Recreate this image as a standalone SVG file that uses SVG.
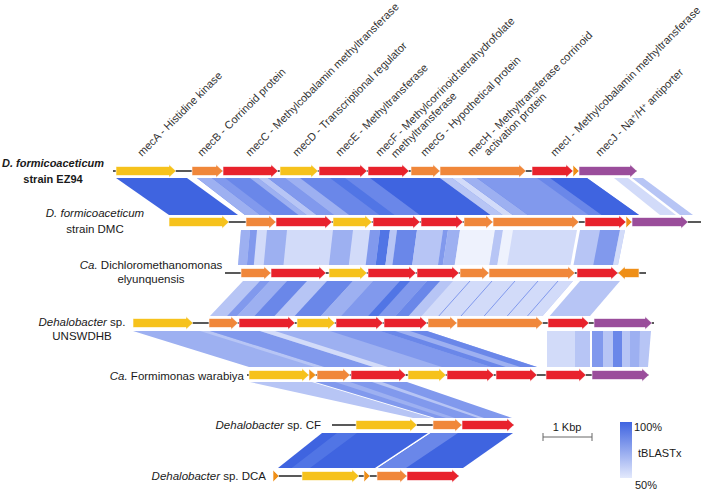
<svg xmlns="http://www.w3.org/2000/svg" width="708" height="490" viewBox="0 0 708 490">
<defs>
<style>
text{font-family:"Liberation Sans",Arial,sans-serif;fill:#1a1a1a}
.gl{font-size:11px;fill:#333}
.sp{font-size:11.5px}
.it{font-style:italic}
.tr line{stroke:#222;stroke-width:1.3}
.tr path{stroke:#fff;stroke-width:0.6}
.y{fill:#f6c21c}.o{fill:#f0873a}.r{fill:#e8222c}.p{fill:#9a4d9b}.d{fill:#ef8f17}
.c100{fill:#3f64e0}.c90{fill:#5175e5}.c80{fill:#6a87e9}.c70{fill:#8199ed}.c60{fill:#9db0f1}.c55{fill:#b7c5f5}.c50{fill:#d2dbf9}.pale{fill:#eef2fd}
.ln{stroke:#8199ed;stroke-width:1;fill:none}
</style>
<linearGradient id="lg" x1="0" y1="0" x2="0" y2="1">
<stop offset="0" stop-color="#3f64e0"/>
<stop offset="1" stop-color="#e3e9fc"/>
</linearGradient>
</defs>
<rect width="708" height="490" fill="#fff"/>

<g id="connectors">
<!-- EZ94 -> DMC -->
<polygon class="c100" points="116,178 187,178 238,215 169,215"/>
<polygon class="c80" points="197,178 587,178 639,215 245,215"/>
<polygon class="c60" points="197,178 212,178 260.2,215 245,215"/>
<polygon class="c70" points="212,178 225,178 273.3,215 260.2,215"/>
<polygon class="c60" points="250,178 258,178 306.6,215 298.5,215"/>
<polygon class="c55" points="258,178 268,178 316.7,215 306.6,215"/>
<polygon class="c70" points="268,178 285,178 333.9,215 316.7,215"/>
<polygon class="c60" points="285,178 300,178 349.1,215 333.9,215"/>
<polygon class="c90" points="330,178 345,178 394.5,215 379.4,215"/>
<polygon class="c100" points="370,178 440,178 490.5,215 419.8,215"/>
<polygon class="c55" points="440,178 452,178 502.6,215 490.5,215"/>
<polygon class="c50" points="452,178 462,178 512.7,215 502.6,215"/>
<polygon class="c60" points="462,178 477,178 527.9,215 512.7,215"/>
<polygon class="c70" points="477,178 537,178 588.5,215 527.9,215"/>
<polygon class="c100" points="550,178 587,178 639,215 601.6,215"/>
<polygon class="c50" points="614,178 628,178 676,215 660,215"/>
<polygon class="c55" points="632,178 643,178 693,215 680,215"/>
<!-- DMC -> Dichloromethanomonas -->
<polygon class="c50" points="241,230 577,230 570.5,265 238,265"/>
<polygon class="c60" points="241,230 250,230 246.9,265 238,265"/>
<polygon class="c70" points="250,230 257,230 253.8,265 246.9,265"/>
<polygon class="c60" points="267,230 287,230 283.5,265 263.7,265"/>
<polygon class="c60" points="333,230 353,230 348.8,265 329,265"/>
<polygon class="c70" points="370,230 380,230 375.6,265 365.7,265"/>
<polygon class="c90" points="380,230 390,230 385.4,265 375.6,265"/>
<polygon class="c55" points="390,230 397,230 392.4,265 385.4,265"/>
<polygon class="c80" points="397,230 417,230 412.2,265 392.4,265"/>
<polygon class="c55" points="417,230 443,230 438,265 412.2,265"/>
<polygon class="c70" points="443,230 448,230 442.8,265 438,265"/>
<polygon class="c60" points="448,230 460,230 454.7,265 442.8,265"/>
<polygon class="pale" points="460,230 495,230 489.4,265 454.7,265"/>
<polygon class="c55" points="495,230 503,230 497.3,265 489.4,265"/>
<polygon class="pale" points="503,230 513,230 507.2,265 497.3,265"/>
<polygon class="c55" points="580,230 625,230 618,265 573.5,265"/>
<polygon class="c70" points="600,230 620,230 613.1,265 593.3,265"/>
<polygon class="c50" points="620,230 625,230 618,265 613.1,265"/>
<!-- Dichloromethanomonas -> UNSWDHB -->
<polygon class="c55" points="243,281 573,281 542.6,316 210,316"/>
<polygon class="c70" points="260,281 270,281 237.2,316 227.1,316"/>
<polygon class="c60" points="270,281 287,281 254.4,316 237.2,316"/>
<polygon class="c80" points="287,281 307,281 274.5,316 254.4,316"/>
<polygon class="c80" points="327,281 353,281 320.9,316 294.7,316"/>
<polygon class="c60" points="353,281 373,281 341,316 320.9,316"/>
<polygon class="c70" points="373,281 427,281 395.5,316 341,316"/>
<polygon class="c90" points="400,281 410,281 378.3,316 368.2,316"/>
<polygon class="c80" points="427,281 440,281 408.6,316 395.5,316"/>
<polygon class="c50" points="453,281 573,281 542.6,316 421.7,316"/>
<path class="ln" d="M470,281L438.8,316M492,281L461,316M515,281L484.2,316M538,281L507.3,316M558,281L527.5,316"/>
<polygon class="c55" points="580,281 620,281 590,316 549.7,316"/>
<!-- UNSWDHB -> Formimonas -->
<polygon class="c60" points="133,331 427,331 537,367 249,367"/>
<polygon class="c55" points="200,331 210,331 324.4,367 314.6,367"/>
<polygon class="c70" points="210,331 260,331 373.4,367 324.4,367"/>
<polygon class="c50" points="260,331 275,331 388.1,367 373.4,367"/>
<polygon class="c70" points="330,331 380,331 491,367 442,367"/>
<polygon class="c80" points="380,331 395,331 505.7,367 491,367"/>
<polygon class="c80" points="410,331 427,331 537,367 520.3,367"/>
<polygon class="c50" points="547,331 590,331 590,367 547,367"/>
<polygon class="c55" points="575,331 590,331 590,367 575,367"/>
<polygon class="c55" points="592,331 651,331 648,367 592,367"/>
<polygon class="c70" points="592,331 603,331 603,367 592,367"/>
<polygon class="c80" points="613,331 622,331 622,367 613,367"/>
<polygon class="c60" points="630,331 640,331 639,367 630,367"/>
<!-- Formimonas -> CF -->
<polygon class="c55" points="250,382 312,382 432,418 413,418"/>
<polygon class="c70" points="315,382 407,382 512,418 435,418"/>
<polygon class="c60" points="335,382 350,382 455,418 446,418"/>
<polygon class="c55" points="372,382 382,382 484,418 478,418"/>
</g>
<g id="connectors-2">
<!-- CF -> DCA -->
<polygon class="c100" points="322,433 428,433 375,468 278,468"/>
<polygon class="c90" points="337,433 357,433 310,468 291.7,468"/>
<polygon class="c100" points="431,433 513,433 463,468 378,468"/>
<polygon class="c80" points="431,433 458,433 406,468 378,468"/>
</g>

<g id="labels-genes">
<text class="gl" transform="translate(142,157) rotate(-45)">mecA - Histidine kinase</text>
<text class="gl" transform="translate(202,157) rotate(-45)">mecB - Corrinoid protein</text>
<text class="gl" transform="translate(250,157) rotate(-45)">mecC - Methylcobalamin methyltransferase</text>
<text class="gl" transform="translate(297,157) rotate(-45)">mecD - Transcriptional regulator</text>
<text class="gl" transform="translate(340,157) rotate(-45)">mecE - Methyltransferase</text>
<text class="gl" transform="translate(380,157) rotate(-45)"><tspan x="0" y="0">mecF - Methylcorrinoid:tetrahydrofolate</tspan><tspan x="10" y="12">methyltransferase</tspan></text>
<text class="gl" transform="translate(425,157) rotate(-45)">mecG - Hypothetical protein</text>
<text class="gl" transform="translate(472,157) rotate(-45)"><tspan x="0" y="0">mecH - Methyltransferase corrinoid</tspan><tspan x="12" y="11">activation protein</tspan></text>
<text class="gl" transform="translate(555,157) rotate(-45)">mecI - Methylcobalamin methyltransferase</text>
<text class="gl" transform="translate(600,157) rotate(-45)">mecJ - Na<tspan dy="-3" font-size="7">+</tspan><tspan dy="3">/H</tspan><tspan dy="-3" font-size="7">+</tspan><tspan dy="3"> antiporter</tspan></text>
</g>

<g id="track-EZ94" class="tr">
<text x="53" y="167" text-anchor="middle" font-size="11" font-weight="bold" font-style="italic">D. formicoaceticum</text>
<text x="53" y="183" text-anchor="middle" font-size="11" font-weight="bold">strain EZ94</text>
<g transform="translate(0,171)">
<line x1="113" y1="0" x2="637" y2="0"/>
<path class="y" d="M116,-4.5H169V-6.5L176,0L169,6.5V4.5H116Z"/>
<path class="o" d="M192,-4.5H216V-6.5L223,0L216,6.5V4.5H192Z"/>
<path class="r" d="M223,-4.5H271V-6.5L278,0L271,6.5V4.5H223Z"/>
<path class="y" d="M280,-4.5H311V-6.5L318,0L311,6.5V4.5H280Z"/>
<path class="r" d="M319,-4.5H360V-6.5L367,0L360,6.5V4.5H319Z"/>
<path class="r" d="M368,-4.5H402V-6.5L409,0L402,6.5V4.5H368Z"/>
<path class="o" d="M411,-4.5H433V-6.5L440,0L433,6.5V4.5H411Z"/>
<path class="o" d="M440,-4.5H519V-6.5L526,0L519,6.5V4.5H440Z"/>
<path class="r" d="M532,-4.5H566V-6.5L573,0L566,6.5V4.5H532Z"/>
<path class="d" d="M573,-6L579,0L573,6Z"/>
<path class="p" d="M579,-4.5H630V-6.5L637,0L630,6.5V4.5H579Z"/>
</g>
</g>

<g id="track-DMC" class="tr">
<text class="sp it" x="95" y="217" text-anchor="middle">D. formicoaceticum</text>
<text class="sp" x="95" y="233" text-anchor="middle">strain DMC</text>
<g transform="translate(0,222)">
<line x1="169" y1="0" x2="701" y2="0"/>
<path class="y" d="M169,-4.5H222V-6.5L229,0L222,6.5V4.5H169Z"/>
<path class="o" d="M246,-4.5H269V-6.5L276,0L269,6.5V4.5H246Z"/>
<path class="r" d="M276,-4.5H325V-6.5L332,0L325,6.5V4.5H276Z"/>
<path class="y" d="M333,-4.5H365V-6.5L372,0L365,6.5V4.5H333Z"/>
<path class="r" d="M373,-4.5H413V-6.5L420,0L413,6.5V4.5H373Z"/>
<path class="r" d="M421,-4.5H456V-6.5L463,0L456,6.5V4.5H421Z"/>
<path class="o" d="M464,-4.5H486V-6.5L493,0L486,6.5V4.5H464Z"/>
<path class="o" d="M493,-4.5H572V-6.5L579,0L572,6.5V4.5H493Z"/>
<path class="r" d="M585,-4.5H619V-6.5L626,0L619,6.5V4.5H585Z"/>
<path class="d" d="M626,-6L632,0L626,6Z"/>
<path class="p" d="M632,-4.5H681V-6.5L688,0L681,6.5V4.5H632Z"/>
</g>
</g>

<g id="track-Dichloromethanomonas" class="tr">
<text class="sp" x="151" y="269" text-anchor="middle"><tspan class="it">Ca.</tspan> Dichloromethanomonas</text>
<text class="sp" x="151" y="283" text-anchor="middle">elyunquensis</text>
<g transform="translate(0,273)">
<line x1="225" y1="0" x2="646" y2="0"/>
<path class="o" d="M241,-4.5H264V-6.5L271,0L264,6.5V4.5H241Z"/>
<path class="r" d="M271,-4.5H319V-6.5L326,0L319,6.5V4.5H271Z"/>
<path class="y" d="M329,-4.5H360V-6.5L367,0L360,6.5V4.5H329Z"/>
<path class="r" d="M368,-4.5H409V-6.5L416,0L409,6.5V4.5H368Z"/>
<path class="r" d="M417,-4.5H452V-6.5L459,0L452,6.5V4.5H417Z"/>
<path class="o" d="M460,-4.5H482V-6.5L489,0L482,6.5V4.5H460Z"/>
<path class="o" d="M489,-4.5H568V-6.5L575,0L568,6.5V4.5H489Z"/>
<path class="r" d="M577,-4.5H611V-6.5L618,0L611,6.5V4.5H577Z"/>
<path class="d" d="M639,-4.5H625V-6.5L618,0L625,6.5V4.5H639Z"/>
</g>
</g>

<g id="track-UNSWDHB" class="tr">
<text class="sp" x="82" y="326" text-anchor="middle"><tspan class="it">Dehalobacter</tspan> sp.</text>
<text class="sp" x="82" y="340" text-anchor="middle">UNSWDHB</text>
<g transform="translate(0,323)">
<line x1="133" y1="0" x2="654" y2="0"/>
<path class="y" d="M133,-4.5H186V-6.5L193,0L186,6.5V4.5H133Z"/>
<path class="o" d="M209,-4.5H231V-6.5L238,0L231,6.5V4.5H209Z"/>
<path class="r" d="M239,-4.5H288V-6.5L295,0L288,6.5V4.5H239Z"/>
<path class="y" d="M297,-4.5H328V-6.5L335,0L328,6.5V4.5H297Z"/>
<path class="r" d="M336,-4.5H376V-6.5L383,0L376,6.5V4.5H336Z"/>
<path class="r" d="M384,-4.5H420V-6.5L427,0L420,6.5V4.5H384Z"/>
<path class="o" d="M428,-4.5H450V-6.5L457,0L450,6.5V4.5H428Z"/>
<path class="o" d="M457,-4.5H536V-6.5L543,0L536,6.5V4.5H457Z"/>
<path class="r" d="M548,-4.5H582V-6.5L589,0L582,6.5V4.5H548Z"/>
<path class="p" d="M594,-4.5H645V-6.5L652,0L645,6.5V4.5H594Z"/>
</g>
</g>

<g id="track-Formimonas" class="tr">
<text class="sp" x="244" y="380" text-anchor="end"><tspan class="it">Ca.</tspan> Formimonas warabiya</text>
<g transform="translate(0,375)">
<line x1="247" y1="0" x2="649" y2="0"/>
<path class="y" d="M249,-4.5H302V-6.5L309,0L302,6.5V4.5H249Z"/>
<path class="d" d="M309,-6L316,0L309,6Z"/>
<path class="o" d="M317,-4.5H343V-6.5L350,0L343,6.5V4.5H317Z"/>
<path class="r" d="M351,-4.5H399V-6.5L406,0L399,6.5V4.5H351Z"/>
<path class="y" d="M408,-4.5H439V-6.5L446,0L439,6.5V4.5H408Z"/>
<path class="r" d="M447,-4.5H487V-6.5L494,0L487,6.5V4.5H447Z"/>
<path class="r" d="M496,-4.5H530V-6.5L537,0L530,6.5V4.5H496Z"/>
<path class="r" d="M546,-4.5H579V-6.5L586,0L579,6.5V4.5H546Z"/>
<path class="p" d="M592,-4.5H642V-6.5L649,0L642,6.5V4.5H592Z"/>
</g>
</g>

<g id="track-CF" class="tr">
<text class="sp" x="321" y="429" text-anchor="end"><tspan class="it">Dehalobacter</tspan> sp. CF</text>
<g transform="translate(0,425)">
<line x1="332" y1="0" x2="514" y2="0"/>
<path class="y" d="M356,-4.5H410V-6.5L417,0L410,6.5V4.5H356Z"/>
<path class="o" d="M433,-4.5H455V-6.5L462,0L455,6.5V4.5H433Z"/>
<path class="r" d="M462,-4.5H507V-6.5L514,0L507,6.5V4.5H462Z"/>
</g>
</g>

<g id="track-DCA" class="tr">
<text class="sp" x="266" y="480" text-anchor="end"><tspan class="it">Dehalobacter</tspan> sp. DCA</text>
<g transform="translate(0,476)">
<line x1="273" y1="0" x2="459" y2="0"/>
<path class="d" d="M273,-6L279,0L273,6Z"/>
<path class="y" d="M302,-4.5H352V-6.5L359,0L352,6.5V4.5H302Z"/>
<path class="d" d="M364,-6L370,0L364,6Z"/>
<path class="o" d="M377,-4.5H400V-6.5L407,0L400,6.5V4.5H377Z"/>
<path class="r" d="M407,-4.5H452V-6.5L459,0L452,6.5V4.5H407Z"/>
</g>
</g>

<g id="scale-bar">
<text x="567" y="431" text-anchor="middle" font-size="11">1 Kbp</text>
<path d="M543,437H592M543,433V441M592,433V441" stroke="#666" stroke-width="1" fill="none"/>
</g>

<g id="legend">
<rect x="620" y="422" width="12" height="56" fill="url(#lg)"/>
<text x="634" y="431" font-size="11">100%</text>
<text x="638" y="457" font-size="11">tBLASTx</text>
<text x="635" y="489" font-size="11">50%</text>
</g>
</svg>
